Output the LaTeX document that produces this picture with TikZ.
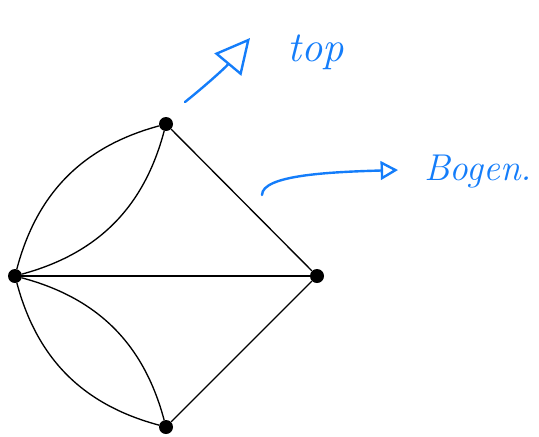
\documentclass[tikz,border=0pt]{standalone}
\usetikzlibrary{arrows.meta}
\definecolor{ink}{RGB}{20,125,250}
\tikzset{
  vert/.style={circle,fill=black,inner sep=0pt,minimum size=10.5pt},
  edge/.style={line width=1pt,black},
  pen/.style={ink,line width=1.8pt,line cap=round,line join=round},
  hand/.style={ink,font=\itshape\fontsize{32}{34}\selectfont,inner sep=0pt},
}
\begin{document}
\begin{tikzpicture}[x=0.75pt,y=-0.75pt]
\useasboundingbox (0,0) rectangle (539,436);
\node[vert] (t) at (166,124) {};
\node[vert] (l) at (15,276) {};
\node[vert] (r) at (317,276) {};
\node[vert] (b) at (166,427) {};
\draw[edge] (l) to[bend left=30] (t);
\draw[edge] (l) to[bend right=30] (t);
\draw[edge] (t) -- (r);
\draw[edge] (l) -- (r);
\draw[edge] (r) -- (b);
\draw[edge] (l) to[bend right=30] (b);
\draw[edge] (l) to[bend left=30] (b);
% handwritten annotations
\coordinate (a1s) at (185,102);
\coordinate (a1e) at (250,38);
\draw[pen,-{Triangle[open,length=26pt,width=26pt,line width=1.8pt]}] (a1s) .. controls (205,86) and (225,68) .. (a1e);
\node[hand] (top) at (316,52) {top};
\coordinate (a2s) at (262,195);
\coordinate (a2e) at (398,170);
\draw[pen,-{Triangle[open,length=13pt,width=14pt,line width=1.8pt]}] (a2s) .. controls (262,175) and (330,172) .. (a2e);
\node[hand,font=\itshape\fontsize{28}{30}\selectfont] (bogen) at (478,172) {Bogen.};
\end{tikzpicture}
\end{document}
